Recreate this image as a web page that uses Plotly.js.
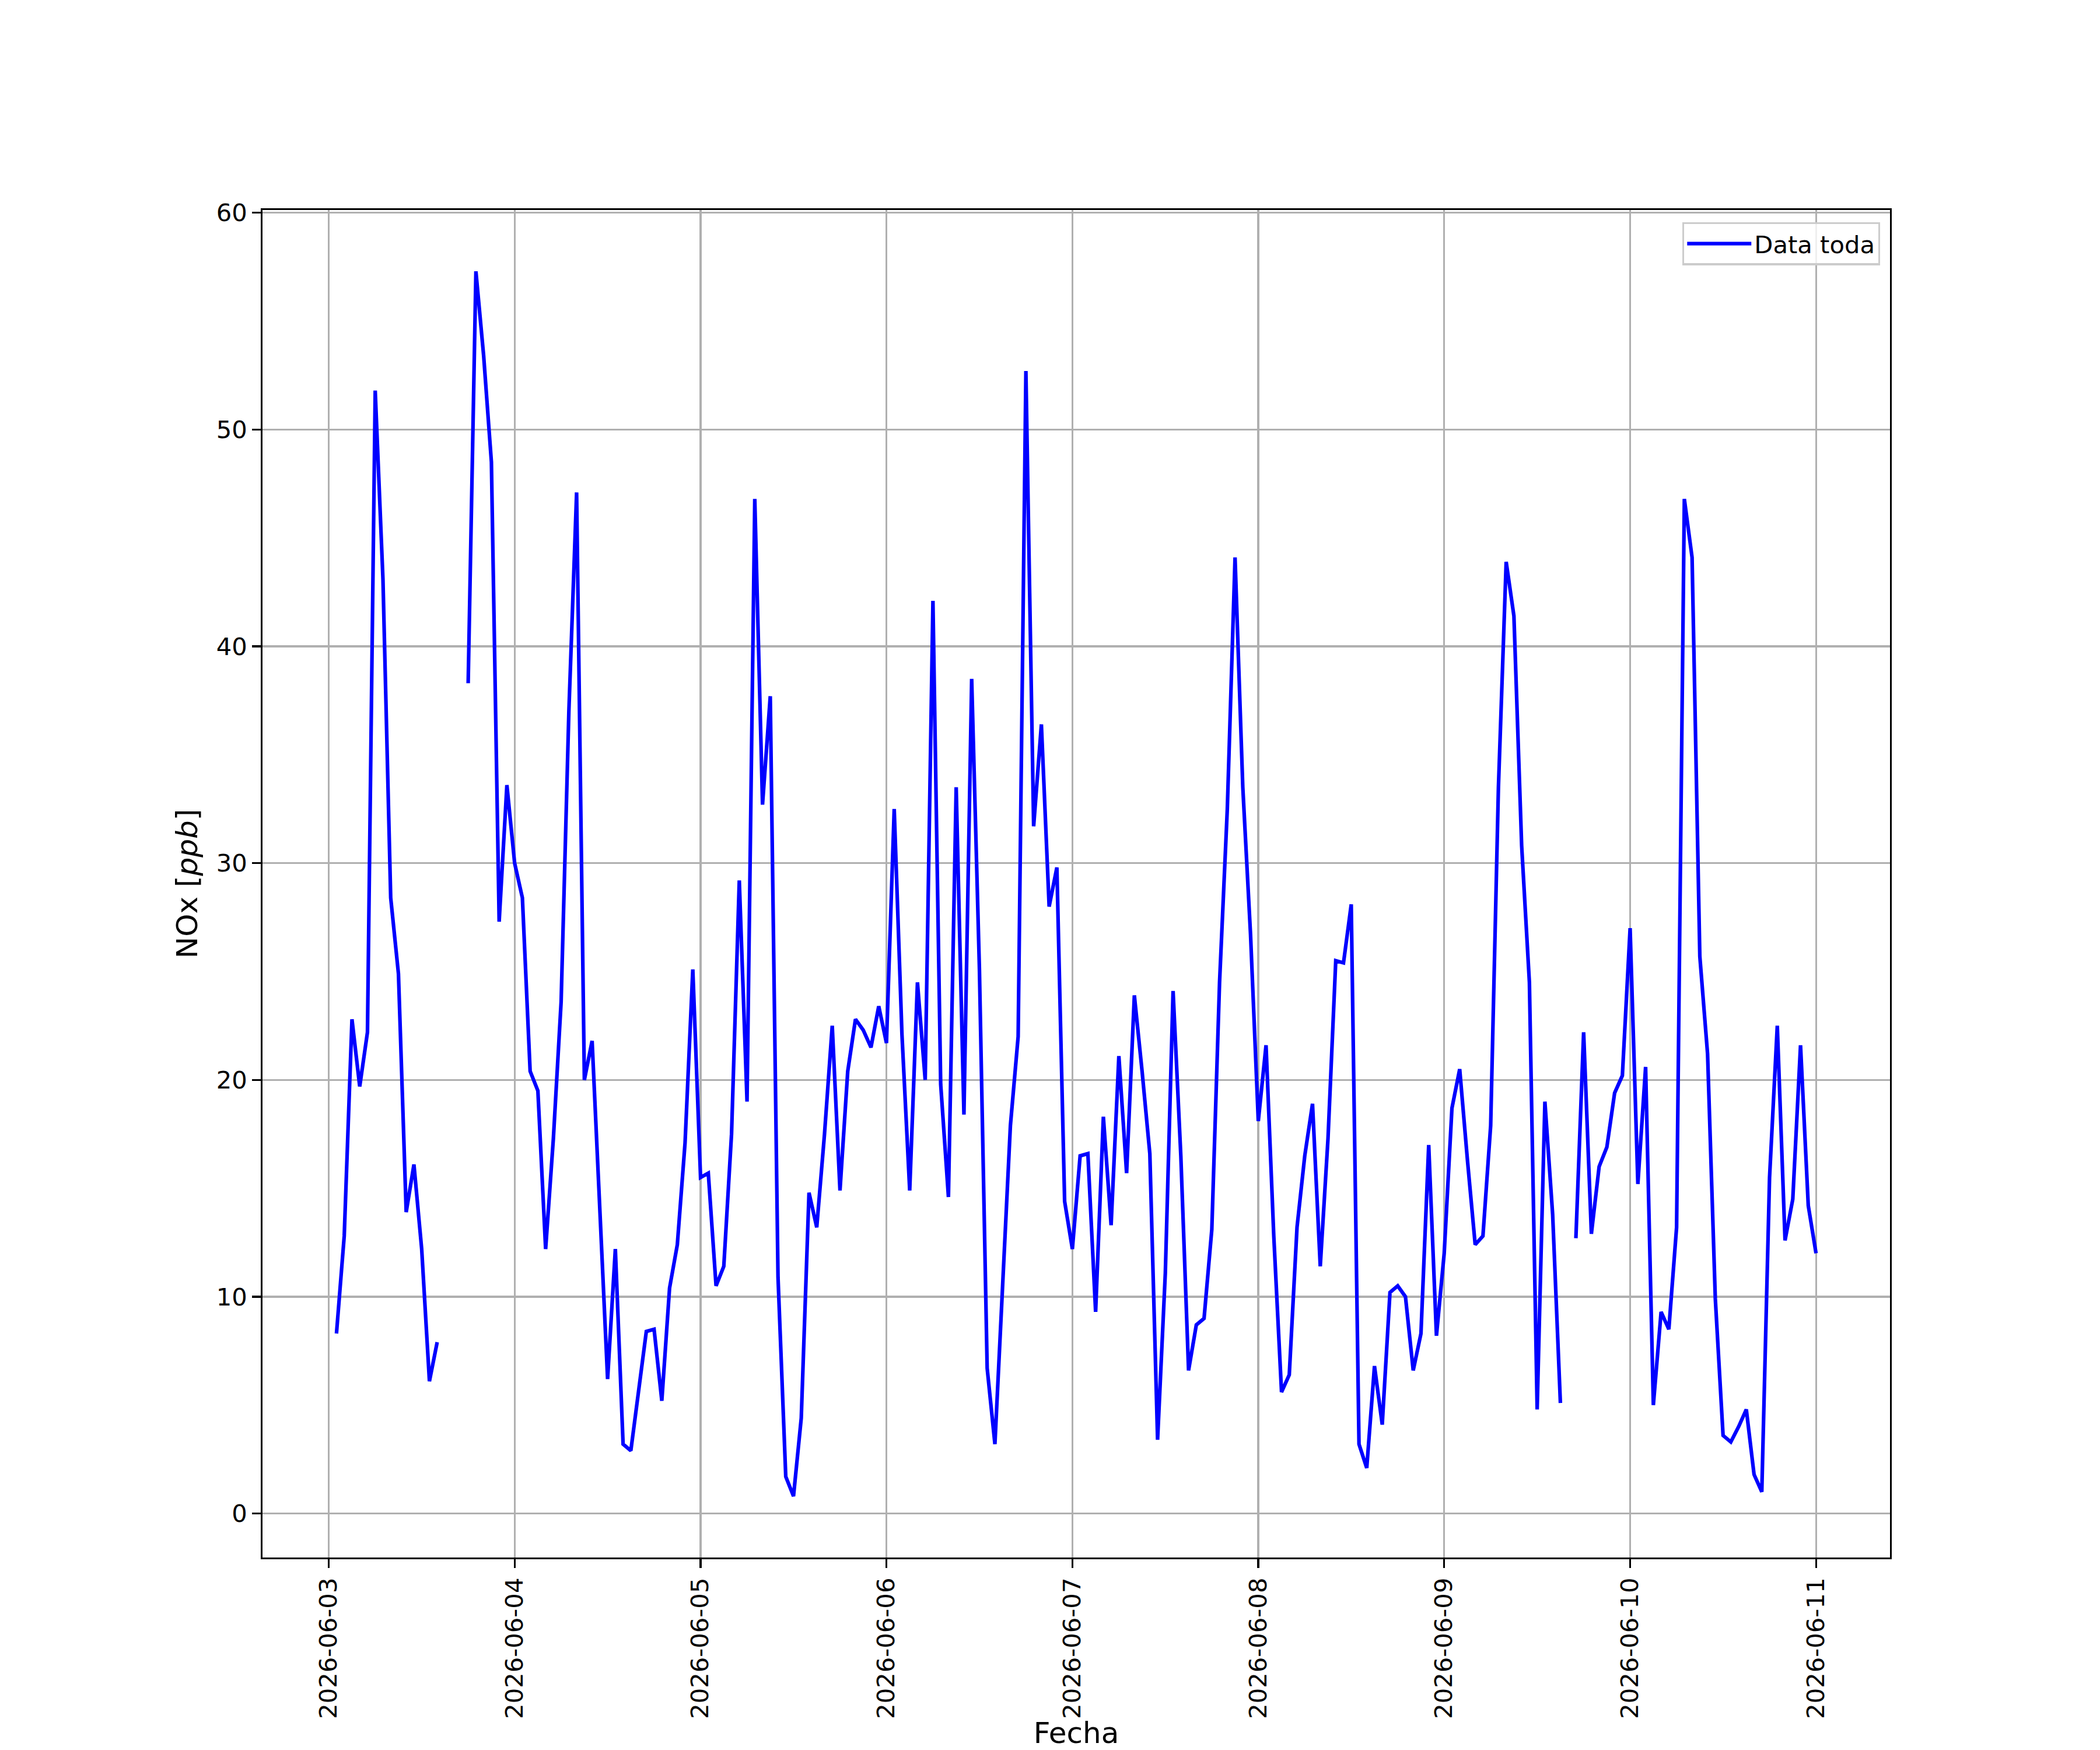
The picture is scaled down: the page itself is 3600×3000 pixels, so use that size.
<!DOCTYPE html>
<html>
<head>
<meta charset="utf-8">
<script src="https://cdn.plot.ly/plotly-3.0.1.min.js"></script>
<style>
  html, body { margin: 0; padding: 0; background: #fff; }
  #chart { width: 3600px; height: 3000px; }
</style>
</head>
<body>
<div id="chart"></div>
<script>
// hourly NOx readings, one array per day (first day starts at 01:00)
var startTime = '2026-06-03T01:00:00Z';
var nox0603 = [8.3, 12.8, 22.8, 19.7, 22.2, 51.8, 43.1, 28.4, 24.9, 13.9, 16.1, 12.2, 6.1, 7.9, null, null, null, 38.3, 57.3, 53.4, 48.5, 27.3, 33.6];
var nox0604 = [30.0, 28.4, 20.4, 19.5, 12.2, 17.3, 23.6, 37.0, 47.1, 20.0, 21.8, 13.6, 6.2, 12.2, 3.2, 2.9, 5.8, 8.4, 8.5, 5.2, 10.4, 12.4, 17.1, 25.1];
var nox0605 = [15.5, 15.7, 10.5, 11.4, 17.5, 29.2, 19.0, 46.8, 32.7, 37.7, 10.9, 1.7, 0.8, 4.4, 14.8, 13.2, 17.5, 22.5, 14.9, 20.4, 22.8, 22.3, 21.5, 23.4];
var nox0606 = [21.7, 32.5, 22.1, 14.9, 24.5, 20.0, 42.1, 19.8, 14.6, 33.5, 18.4, 38.5, 25.1, 6.7, 3.2, 10.5, 17.9, 22.0, 52.7, 31.7, 36.4, 28.0, 29.8, 14.4];
var nox0607 = [12.2, 16.5, 16.6, 9.3, 18.3, 13.3, 21.1, 15.7, 23.9, 20.4, 16.6, 3.4, 11.1, 24.1, 16.5, 6.6, 8.7, 9.0, 13.1, 24.5, 32.5, 44.1, 33.5, 26.7];
var nox0608 = [18.1, 21.6, 12.8, 5.6, 6.4, 13.2, 16.5, 18.9, 11.4, 17.3, 25.5, 25.4, 28.1, 3.2, 2.1, 6.8, 4.1, 10.2, 10.5, 10.0, 6.6, 8.3, 17.0, 8.2];
var nox0609 = [12.0, 18.7, 20.5, 16.3, 12.4, 12.8, 17.9, 33.5, 43.9, 41.4, 30.8, 24.5, 4.8, 19.0, 13.8, 5.1, null, 12.7, 22.2, 12.9, 16.0, 16.9, 19.4, 20.2];
var nox0610 = [27.0, 15.2, 20.6, 5.0, 9.3, 8.5, 13.2, 46.8, 44.1, 25.7, 21.2, 9.9, 3.6, 3.3, 4.0, 4.8, 1.8, 1.0, 15.5, 22.5, 12.6, 14.5, 21.6, 14.2];
var nox0611 = [12.0];

var seriesName = 'Data toda';
var xLabel = 'Fecha';
var yLabel = 'NOx [<i>ppb</i>]';

var nox = [].concat(nox0603, nox0604, nox0605, nox0606, nox0607, nox0608, nox0609, nox0610, nox0611);
var t0 = Date.parse(startTime);
var fecha = nox.map(function (v, i) {
  return new Date(t0 + i * 3600000).toISOString().slice(0, 19).replace('T', ' ');
});

var tickFont = { family: 'DejaVu Sans', size: 41.7, color: '#000' };
var labelFont = { family: 'DejaVu Sans', size: 50, color: '#000' };

var trace = {
  type: 'scatter',
  mode: 'lines',
  x: fecha,
  y: nox,
  name: seriesName,
  line: { color: '#0000ff', width: 6.25 },
  connectgaps: false,
  showlegend: true
};

var layout = {
  width: 3600,
  height: 3000,
  margin: { l: 450, r: 360, t: 360, b: 330 },
  paper_bgcolor: '#fff',
  plot_bgcolor: '#fff',
  showlegend: true,
  legend: {
    x: 0.9939, y: 0.991, xanchor: 'right', yanchor: 'top',
    bgcolor: 'rgba(255,255,255,0.8)',
    bordercolor: '#cccccc',
    borderwidth: 3.3,
    itemwidth: 110,
    font: tickFont
  },
  xaxis: {
    type: 'date',
    range: ['2026-06-02 15:27', '2026-06-11 09:33'],
    tick0: '2026-06-03',
    dtick: 86400000,
    tickformat: '%Y-%m-%d',
    tickangle: -90,
    tickfont: tickFont,
    ticks: 'outside',
    ticklen: 14.6,
    tickwidth: 3.3,
    tickcolor: '#000',
    showgrid: true,
    gridcolor: '#b0b0b0',
    gridwidth: 3.3,
    zeroline: false,
    showline: true,
    mirror: true,
    linecolor: '#000',
    linewidth: 3.3,
    title: { text: xLabel, font: labelFont, standoff: 26 }
  },
  yaxis: {
    range: [-2.03, 60.13],
    tick0: 0,
    dtick: 10,
    tickfont: tickFont,
    ticks: 'outside',
    ticklen: 14.6,
    tickwidth: 3.3,
    tickcolor: '#000',
    showgrid: true,
    gridcolor: '#b0b0b0',
    gridwidth: 3.3,
    zeroline: false,
    showline: true,
    mirror: true,
    linecolor: '#000',
    linewidth: 3.3,
    title: { text: yLabel, font: labelFont, standoff: 17 }
  }
};

Plotly.newPlot('chart', [trace], layout, { staticPlot: true });
</script>
</body>
</html>
